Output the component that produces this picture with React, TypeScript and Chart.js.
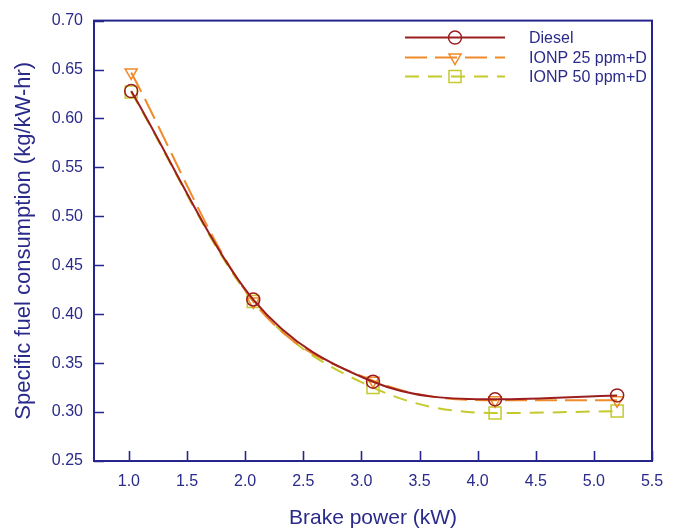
import React, { useEffect, useRef } from 'react';
import { Chart, registerables } from 'chart.js';

Chart.register(...registerables);

const BRAKE_POWER = [1.02, 2.07, 3.1, 4.15, 5.2];
const DIESEL = [0.628, 0.415, 0.331, 0.313, 0.317];
const IONP_25 = [0.647, 0.413, 0.332, 0.312, 0.312];
const IONP_50 = [0.627, 0.413, 0.325, 0.299, 0.301];
const SERIES_LABELS = ['Diesel', 'IONP 25 ppm+D', 'IONP 50 ppm+D'];
const X_TICKS = [1.0, 1.5, 2.0, 2.5, 3.0, 3.5, 4.0, 4.5, 5.0, 5.5];
const Y_TICKS = [0.25, 0.3, 0.35, 0.4, 0.45, 0.5, 0.55, 0.6, 0.65, 0.7];
const X_TITLE = 'Brake power (kW)';
const Y_TITLE = 'Specific fuel consumption (kg/kW-hr)';

const NAVY = '#25258c';
const TEXT = '#2a2a8a';
const COLORS = ['#9a1e1e', '#f08a2b', '#c5c92e'];
const FONT = "'Liberation Sans', Arial, sans-serif";

function toPoints(ys: number[]) {
  return BRAKE_POWER.map((x, i) => ({ x, y: ys[i] }));
}

function drawMarker(ctx: CanvasRenderingContext2D, style: string, x: number, y: number, r: number) {
  ctx.beginPath();
  if (style === 'circle') {
    ctx.arc(x, y, r, 0, Math.PI * 2);
  } else if (style === 'triangle') {
    ctx.moveTo(x, y + r);
    ctx.lineTo(x + r * Math.sin(Math.PI / 3), y - r / 2);
    ctx.lineTo(x - r * Math.sin(Math.PI / 3), y - r / 2);
    ctx.closePath();
  } else {
    const s = r * Math.SQRT1_2;
    ctx.rect(x - s, y - s, 2 * s, 2 * s);
  }
  ctx.stroke();
}

const framePlugin = {
  id: 'frameTicks',
  afterDatasetsDraw(chart: any) {
    const { ctx, chartArea } = chart;
    const { left, right, top, bottom } = chartArea;
    ctx.save();
    ctx.strokeStyle = NAVY;
    ctx.lineWidth = 2;
    ctx.setLineDash([]);
    ctx.strokeRect(left, top, right - left, bottom - top);
    const xs = chart.scales.x;
    const ys = chart.scales.y;
    ctx.lineWidth = 1.6;
    ctx.beginPath();
    X_TICKS.forEach((v) => {
      const px = Math.round(xs.getPixelForValue(v)) + 0.5;
      ctx.moveTo(px, bottom);
      ctx.lineTo(px, bottom - 10);
    });
    Y_TICKS.forEach((v) => {
      const py = Math.round(ys.getPixelForValue(v)) + 0.5;
      ctx.moveTo(left, py);
      ctx.lineTo(left + 10, py);
    });
    ctx.stroke();
    ctx.restore();
  },
  afterDraw(chart: any) {
    const { ctx, chartArea } = chart;
    const x0 = chartArea.right - 247;
    const x1 = chartArea.right - 147;
    const xm = (x0 + x1) / 2;
    const textX = chartArea.right - 123;
    const rows = [chartArea.top + 17, chartArea.top + 37, chartArea.top + 56];
    ctx.save();
    chart.data.datasets.forEach((ds: any, i: number) => {
      const y = rows[i];
      ctx.strokeStyle = ds.borderColor;
      ctx.lineWidth = ds.borderWidth;
      ctx.setLineDash(ds.borderDash || []);
      ctx.beginPath();
      ctx.moveTo(x0, y);
      ctx.lineTo(x1, y);
      ctx.stroke();
      ctx.setLineDash([]);
      ctx.strokeStyle = ds.pointBorderColor;
      ctx.lineWidth = ds.pointBorderWidth;
      drawMarker(ctx, ds.pointStyle, xm, y, ds.pointRadius);
      ctx.fillStyle = TEXT;
      ctx.font = `16px ${FONT}`;
      ctx.textBaseline = 'middle';
      ctx.textAlign = 'left';
      ctx.fillText(ds.label, textX, y + 1);
    });
    ctx.restore();
  },
};

export default function App() {
  const ref = useRef<HTMLCanvasElement | null>(null);

  useEffect(() => {
    document.body.style.margin = '0';
    const canvas = ref.current;
    if (!canvas) return;
    const common = {
      showLine: true,
      fill: false,
      borderWidth: 2,
      pointBorderWidth: 1.5,
      pointBackgroundColor: 'rgba(0,0,0,0)',
      cubicInterpolationMode: 'monotone' as const,
    };
    const chart = new Chart(canvas, {
      type: 'scatter',
      data: {
        datasets: [
          {
            ...common,
            label: SERIES_LABELS[0],
            data: toPoints(DIESEL),
            borderColor: COLORS[0],
            pointBorderColor: COLORS[0],
            pointStyle: 'circle',
            pointRadius: 6.5,
            borderDash: [],
            order: 1,
          },
          {
            ...common,
            label: SERIES_LABELS[1],
            data: toPoints(IONP_25),
            borderColor: COLORS[1],
            pointBorderColor: COLORS[1],
            pointStyle: 'triangle',
            pointRotation: 180,
            pointRadius: 7,
            borderDash: [22, 8],
            order: 2,
          },
          {
            ...common,
            label: SERIES_LABELS[2],
            data: toPoints(IONP_50),
            borderColor: COLORS[2],
            pointBorderColor: COLORS[2],
            pointStyle: 'rect',
            pointRadius: 8.5,
            borderDash: [14, 9],
            order: 3,
          },
        ] as any,
      },
      options: {
        animation: false,
        responsive: false,
        devicePixelRatio: 1,
        layout: { padding: { top: 16, right: 28, left: 0, bottom: 0 } },
        plugins: {
          legend: { display: false },
          tooltip: { enabled: false },
        },
        scales: {
          x: {
            type: 'linear',
            min: 0.7,
            max: 5.5,
            grid: { display: false, drawTicks: false },
            border: { display: false },
            afterBuildTicks: (scale: any) => {
              scale.ticks = X_TICKS.map((value) => ({ value }));
            },
            afterFit: (scale: any) => {
              scale.height = 70;
            },
            ticks: {
              padding: 11,
              color: TEXT,
              font: { family: FONT, size: 16 },
              maxRotation: 0,
              callback: (v: any) => Number(v).toFixed(1),
            },
            title: {
              display: true,
              text: X_TITLE,
              color: TEXT,
              font: { family: FONT, size: 21 },
              padding: { top: 0, bottom: 0 },
            },
          },
          y: {
            type: 'linear',
            min: 0.25,
            max: 0.7,
            grid: { display: false, drawTicks: false },
            border: { display: false },
            afterBuildTicks: (scale: any) => {
              scale.ticks = Y_TICKS.map((value) => ({ value }));
            },
            afterFit: (scale: any) => {
              scale.width = 94;
            },
            ticks: {
              padding: 11,
              color: TEXT,
              font: { family: FONT, size: 16 },
              callback: (v: any) => Number(v).toFixed(2),
            },
            title: {
              display: true,
              text: Y_TITLE,
              color: TEXT,
              font: { family: FONT, size: 22 },
              padding: { top: 11, bottom: 0 },
            },
          },
        },
      } as any,
      plugins: [framePlugin],
    });
    return () => chart.destroy();
  }, []);

  return (
    <div style={{ width: 680, height: 531, background: '#fff' }}>
      <canvas ref={ref} width={680} height={531} style={{ display: 'block' }} />
    </div>
  );
}
